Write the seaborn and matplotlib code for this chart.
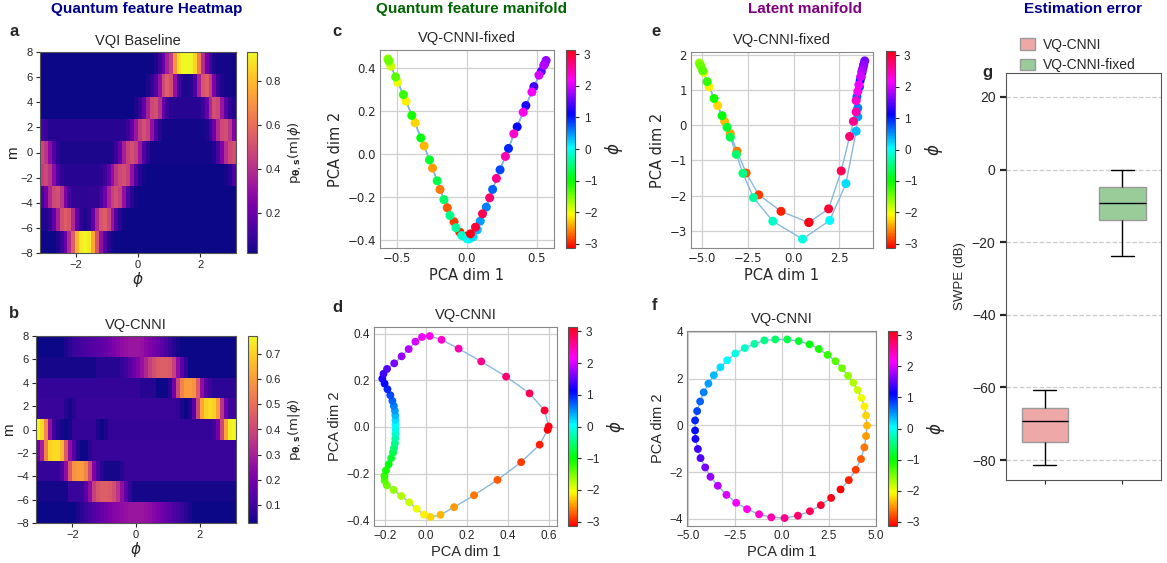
import numpy as np
import pandas as pd
import matplotlib as mpl
import matplotlib.pyplot as plt
import seaborn as sns

sns.set_style('white')
plt.rcParams['font.family'] = ['Liberation Sans', 'DejaVu Sans']
plt.rcParams['mathtext.fontset'] = 'dejavusans'

# ---------------- data ----------------
# p(m|phi) in percent, 9 m-bins (bottom -> top), 50 phi columns
vqi_rows = [
    [2, 2, 2, 2, 4, 10, 20, 38, 55, 78, 90, 93, 90, 75, 52, 30, 15, 6, 3] + [2] * 31,
    [4, 5, 8, 18, 35, 50, 55, 52, 38, 18, 7, 4, 7, 18, 38, 52, 55, 48, 32, 15, 6, 3] + [2] * 28,
    [12, 22, 38, 48, 50, 42, 25, 12, 8, 8, 7, 7, 8, 8, 8, 12, 22, 36, 46, 50, 46, 30, 14, 6, 3] + [2] * 25,
    [45, 48, 42, 28, 14, 8, 6, 6, 6, 6, 6, 6, 6, 6, 6, 7, 10, 18, 30, 42, 48, 50, 46, 30, 14, 6, 3]
    + [2] * 20 + [3, 6, 14],
    [48, 42, 28, 14, 7, 4, 4, 4, 4, 4, 4, 4, 4, 4, 4, 4, 4, 4, 5, 10, 20, 35, 46, 50, 46, 32, 15, 7]
    + [3] * 16 + [5, 12, 25, 40, 48, 50],
    [12, 10] + [6] * 20 + [10, 18, 32, 45, 50, 46, 30, 14, 6] + [3] * 11 + [5, 10, 22, 38, 48, 50, 42, 25],
    [2] * 24 + [4, 8, 18, 35, 48, 50, 40, 20, 10] + [6] * 8 + [10, 20, 38, 50, 48, 32, 16, 8, 5],
    [2] * 27 + [4, 8, 15, 30, 48, 55, 50, 30, 12, 5, 4, 6, 14, 35, 52, 55, 45, 25, 10, 5] + [3] * 3,
    [2] * 29 + [4, 10, 20, 35, 45, 70, 88, 93, 93, 92, 85, 65, 40, 22, 10, 5] + [3] * 5,
]
cnni_rows = [
    [3] * 10 + [5, 7, 9, 11, 13, 15, 17, 19, 21, 23, 24, 25, 26, 27, 27, 27, 27, 26, 25, 23, 21, 19, 17,
                15, 13, 11, 9, 7, 5] + [3] * 11,
    [4] * 8 + [9] * 4 + [15, 25, 38, 44, 46, 46, 45, 42, 35, 25, 15, 8] + [4] * 26,
    [8] * 6 + [12, 25, 45, 58, 60, 60, 55, 40, 22, 12, 6] + [4] * 4 + [6] + [9] * 28,
    [18, 30, 55, 70, 72, 72, 65, 45, 25, 14, 6, 3, 3, 6] + [9] * 36,
    [77, 72, 55, 25, 10, 6, 4, 3, 4] + [8] * 6 + [5, 3, 5] + [8] * 26 + [10, 20, 40, 62, 75, 77],
    [9] * 7 + [6, 4, 6] + [9] * 25 + [8, 5, 3, 5, 15, 40, 62, 70, 72, 70, 60, 35, 18, 10, 10],
    [8] * 26 + [6] * 4 + [3] * 3 + [6, 20, 40, 55, 60, 60, 58, 45, 25, 14, 10] + [7] * 6,
    [4] * 15 + [6] * 6 + [8, 10, 14, 18, 22, 26, 32, 38, 42, 45, 46, 46, 45, 38, 25, 15, 8] + [3] * 12,
    [3] * 7 + [5, 7, 9, 10, 11, 12, 13, 14, 15, 16, 17, 19, 21, 23, 25, 26, 27, 27, 27, 26, 24, 22, 20,
               18, 15, 12, 9, 6, 4] + [3] * 14,
]

phi = [-3.14, -3.01, -2.89, -2.76, -2.63, -2.50, -2.37, -2.24, -2.12, -1.99,
       -1.86, -1.73, -1.60, -1.47, -1.35, -1.22, -1.09, -0.96, -0.83, -0.71,
       -0.58, -0.45, -0.32, -0.19, -0.06, 0.06, 0.19, 0.32, 0.45, 0.58,
       0.71, 0.83, 0.96, 1.09, 1.22, 1.35, 1.47, 1.60, 1.73, 1.86,
       1.99, 2.12, 2.24, 2.37, 2.50, 2.63, 2.76, 2.89, 3.01, 3.14]

# c: quantum feature manifold, VQ-CNNI-fixed
c_x = [-0.007, -0.050, -0.091, -0.139, -0.191, -0.244, -0.304, -0.368, -0.433, -0.493,
       -0.541, -0.553, -0.562, -0.556, -0.507, -0.452, -0.392, -0.328, -0.266, -0.211,
       -0.163, -0.120, -0.077, -0.036, 0.000, 0.015, 0.045, 0.075, 0.096, 0.139,
       0.184, 0.237, 0.297, 0.359, 0.421, 0.478, 0.531, 0.555, 0.565, 0.548,
       0.514, 0.464, 0.402, 0.335, 0.275, 0.211, 0.163, 0.112, 0.062, 0.026]
c_y = [-0.382, -0.363, -0.315, -0.250, -0.165, -0.066, 0.037, 0.144, 0.244, 0.332,
       0.406, 0.428, 0.440, 0.432, 0.357, 0.275, 0.178, 0.074, -0.028, -0.125,
       -0.212, -0.286, -0.343, -0.379, -0.393, -0.395, -0.385, -0.352, -0.312, -0.247,
       -0.165, -0.074, 0.025, 0.125, 0.224, 0.312, 0.383, 0.417, 0.433, 0.410,
       0.365, 0.287, 0.193, 0.093, -0.012, -0.114, -0.204, -0.278, -0.340, -0.371]

# d: quantum feature manifold, VQ-CNNI
d_x = [0.593, 0.554, 0.464, 0.349, 0.235, 0.138, 0.072, 0.024, -0.008, -0.044,
       -0.080, -0.119, -0.156, -0.189, -0.200, -0.201, -0.193, -0.180, -0.168, -0.159,
       -0.154, -0.150, -0.148, -0.147, -0.147, -0.147, -0.147, -0.148, -0.150, -0.155,
       -0.162, -0.172, -0.186, -0.200, -0.211, -0.205, -0.188, -0.153, -0.117, -0.083,
       -0.050, -0.018, 0.020, 0.077, 0.160, 0.270, 0.391, 0.505, 0.578, 0.598]
d_y = [-0.012, -0.076, -0.151, -0.227, -0.293, -0.344, -0.377, -0.386, -0.376, -0.351,
       -0.323, -0.296, -0.270, -0.250, -0.229, -0.210, -0.186, -0.160, -0.134, -0.110,
       -0.090, -0.070, -0.050, -0.030, -0.010, 0.010, 0.030, 0.050, 0.070, 0.090,
       0.112, 0.136, 0.162, 0.186, 0.207, 0.228, 0.249, 0.273, 0.303, 0.334,
       0.366, 0.386, 0.390, 0.374, 0.336, 0.281, 0.216, 0.144, 0.071, 0.002]

# e: latent manifold, VQ-CNNI-fixed
e_x = [0.83, -0.69, -1.91, -2.60, -3.10, -3.47, -3.78, -4.16, -4.63, -4.92,
       -5.05, -5.12, -5.17, -5.10, -4.98, -4.74, -4.36, -3.92, -3.65, -3.47,
       -3.14, -2.78, -2.20, -1.14, 0.49, 1.98, 2.87, 3.43, 3.52, 3.52,
       3.47, 3.61, 3.65, 3.70, 3.75, 3.80, 3.85, 3.90, 3.83, 3.75,
       3.68, 3.58, 3.52, 3.43, 3.43, 3.28, 3.07, 2.61, 1.92, 0.85]
e_y = [-2.77, -2.45, -1.98, -1.36, -0.74, -0.24, 0.11, 0.56, 1.09, 1.50,
       1.64, 1.72, 1.77, 1.70, 1.55, 1.24, 0.76, 0.27, -0.06, -0.34,
       -0.83, -1.37, -2.06, -2.73, -3.24, -2.71, -1.66, -0.17, 0.24, 0.49,
       0.81, 1.09, 1.27, 1.37, 1.50, 1.62, 1.73, 1.83, 1.70, 1.55,
       1.38, 1.15, 0.96, 0.70, 0.38, 0.11, -0.32, -1.30, -2.38, -2.76]

# f: latent manifold, VQ-CNNI
f_x = [3.13, 3.57, 3.94, 4.22, 4.40, 4.49, 4.54, 4.49, 4.40, 4.24,
       4.04, 3.81, 3.53, 3.21, 2.86, 2.44, 1.97, 1.48, 0.90, 0.29,
       -0.35, -0.93, -1.46, -1.97, -2.47, -2.91, -3.27, -3.62, -3.91, -4.16,
       -4.35, -4.51, -4.62, -4.62, -4.60, -4.47, -4.33, -4.08, -3.80, -3.41,
       -2.95, -2.43, -1.85, -1.21, -0.56, 0.15, 0.86, 1.50, 2.08, 2.63]
f_y = [-2.74, -2.34, -1.90, -1.44, -0.94, -0.46, -0.01, 0.42, 0.81, 1.17,
       1.51, 1.82, 2.12, 2.44, 2.74, 3.01, 3.26, 3.46, 3.60, 3.67,
       3.67, 3.63, 3.48, 3.30, 3.07, 2.78, 2.48, 2.14, 1.78, 1.41,
       1.02, 0.61, 0.21, -0.22, -0.58, -1.01, -1.40, -1.80, -2.20, -2.58,
       -2.97, -3.31, -3.58, -3.80, -3.93, -3.96, -3.86, -3.67, -3.41, -3.10]

# g: SWPE (dB) distributions (min, q1, median, q3, max)
models = ['VQ-CNNI', 'VQ-CNNI-fixed']
swpe_cnni = [-81.4, -75.1, -69.2, -65.6, -60.7]
swpe_fixed = [-23.9, -14.0, -9.3, -4.8, 0.0]
box_colors = ['#eea8a8', '#99cc99']

# ---------------- figure ----------------
W, H = 1167, 563
fig = plt.figure(figsize=(W / 100, H / 100), dpi=100)


def box(x0, y0, x1, y1):
    return [x0 / W, 1 - y1 / H, (x1 - x0) / W, (y1 - y0) / H]


def heat(pos, cpos, rows, title):
    ax = fig.add_axes(box(*pos))
    cax = fig.add_axes(box(*cpos))
    arr = np.array(rows) / 100
    im = ax.imshow(arr, extent=[-np.pi, np.pi, -8, 8], origin='lower', aspect='auto',
                   cmap='plasma', interpolation='nearest')
    ax.set_yticks([-8, -6, -4, -2, 0, 2, 4, 6, 8])
    ax.set_xticks([-2, 0, 2])
    ax.tick_params(labelsize=8, length=3, pad=2, left=True, bottom=True)
    ax.set_xlabel(r'$\phi$', fontsize=11, labelpad=0)
    ax.set_ylabel('m', fontsize=11, labelpad=0)
    ax.set_title(title, fontsize=10.5, pad=5)
    cb = fig.colorbar(im, cax=cax)
    cb.ax.tick_params(labelsize=8, length=3)
    cb.set_label(r'$\mathrm{p}_{\mathbf{\theta},\mathbf{s}}(\mathrm{m}|\phi)$', fontsize=9.5)
    cb.outline.set_edgecolor('#555555')
    for sp in ax.spines.values():
        sp.set_edgecolor('#555555')


def manifold(pos, cpos, xs, ys, title, size, fam):
    ax = fig.add_axes(box(*pos))
    cax = fig.add_axes(box(*cpos))
    sns.lineplot(x=xs, y=ys, sort=False, estimator=None, ax=ax, color='#8ab8dc',
                 lw=1, zorder=1)
    sns.scatterplot(x=xs, y=ys, hue=phi, palette='hsv', hue_norm=(-np.pi, np.pi), s=size,
                    edgecolor='none', legend=False, ax=ax, zorder=2)
    ax.grid(True, color='#d0d0d0', lw=0.9)
    ax.set_axisbelow(True)
    ax.set_title(title, fontsize=10.5, pad=6)
    ax.set_xlabel('PCA dim 1', fontsize=10.5, family=fam, labelpad=2)
    ax.set_ylabel('PCA dim 2', fontsize=10.5, family=fam, labelpad=3)
    ax.tick_params(labelsize=8.5, length=0, pad=3)
    for sp in ax.spines.values():
        sp.set_edgecolor('#888888')
    sm = mpl.cm.ScalarMappable(norm=mpl.colors.Normalize(-np.pi, np.pi), cmap='hsv')
    cb = fig.colorbar(sm, cax=cax)
    cb.set_ticks([-3, -2, -1, 0, 1, 2, 3])
    cb.ax.tick_params(labelsize=8.5, length=3)
    cb.set_label(r'$\phi$', fontsize=12)
    cb.outline.set_edgecolor('#555555')
    return ax


def set_fam(ax, fam):
    for lab in ax.get_xticklabels() + ax.get_yticklabels():
        lab.set_family(fam)


heat((40, 52, 236, 253), (247, 52, 257, 253), vqi_rows, 'VQI Baseline')
heat((36, 336, 236, 523), (248, 336, 257, 523), cnni_rows, 'VQ-CNNI')

ax_c = manifold((380, 50, 554, 248), (566, 50, 575, 248), c_x, c_y, 'VQ-CNNI-fixed', 42, 'DejaVu Sans')
set_fam(ax_c, 'DejaVu Sans')
ax_d = manifold((374, 327, 557, 526), (568, 327, 577, 526), d_x, d_y, 'VQ-CNNI', 32, 'Liberation Sans')
ax_e = manifold((691, 52, 873, 248), (886, 51, 895, 248), e_x, e_y, 'VQ-CNNI-fixed', 42, 'DejaVu Sans')
ax_e.set_xticks([-5, -2.5, 0, 2.5])
set_fam(ax_e, 'DejaVu Sans')
ax_f = manifold((687, 331, 876, 526), (888, 331, 897, 526), f_x, f_y, 'VQ-CNNI', 32, 'Liberation Sans')
ax_f.set_xlim(-5.05, 5.02)
ax_f.set_ylim(-4.3, 4.03)
ax_f.set_xticks([-5, -2.5, 0, 2.5, 5])
ax_f.set_yticks([-4, -2, 0, 2, 4])

# g: estimation error
axg = fig.add_axes(box(1006, 73, 1161, 480))
df_err = pd.DataFrame({'model': [models[0]] * 5 + [models[1]] * 5,
                       'swpe': swpe_cnni + swpe_fixed})
sns.boxplot(data=df_err, x='model', y='swpe', hue='model', palette=box_colors,
            saturation=1, width=0.6, linecolor='black', linewidth=1, legend=False, ax=axg)
for p in axg.patches:
    p.set_edgecolor('#9a9a9a')
axg.set_ylim(-85.5, 26.6)
axg.set_xlim(-0.5, 1.5)
axg.set_yticks([-80, -60, -40, -20, 0, 20])
axg.set_xticklabels([])
axg.set_xlabel('')
axg.set_ylabel('SWPE (dB)', fontsize=9.5)
axg.yaxis.grid(True, ls='--', color='#cccccc', lw=0.9)
axg.set_axisbelow(True)
axg.tick_params(axis='y', labelsize=10, left=True, length=4, width=1.6)
axg.tick_params(axis='x', bottom=True, length=3, width=0.8)
for sp in axg.spines.values():
    sp.set_edgecolor('#555555')

handles = [mpl.patches.Patch(facecolor=c, edgecolor='#9a9a9a', label=m)
           for c, m in zip(box_colors, models)]
fig.legend(handles=handles, loc='upper left', bbox_to_anchor=(1014 / W, 1 - 32 / H),
           frameon=False, fontsize=10, handlelength=1.1, handleheight=0.9,
           handletextpad=0.6, borderaxespad=0)

# column headers and panel letters
heads = [('Quantum feature Heatmap', 147, 'darkblue'),
         ('Quantum feature manifold', 472, 'darkgreen'),
         ('Latent manifold', 805, 'purple'),
         ('Estimation error', 1083, 'darkblue')]
for txt, x, col in heads:
    fig.text(x / W, 1 - 9 / H, txt, ha='center', va='center', fontsize=11,
             fontweight='bold', color=col)

letters = [('a', 14, 32), ('b', 14, 314), ('c', 337, 32), ('d', 337, 308),
           ('e', 656, 32), ('f', 655, 306), ('g', 987, 72)]
for l, x, y in letters:
    fig.text(x / W, 1 - y / H, l, ha='center', va='center', fontsize=12, fontweight='bold')

fig.savefig('out.png', dpi=100)
